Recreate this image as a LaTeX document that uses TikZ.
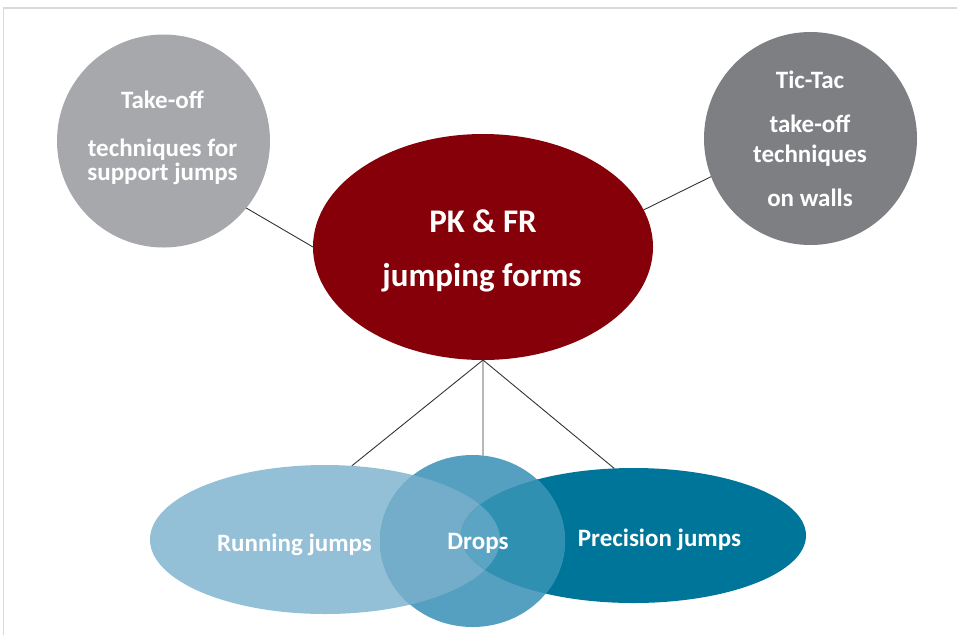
\documentclass[tikz,border=0pt]{standalone}
\usepackage{fontspec}
\setmainfont{Carlito}
\usetikzlibrary{shapes.geometric}
\definecolor{framegray}{HTML}{D9D9D9}
\definecolor{lgray}{HTML}{A7A8AB}
\definecolor{dgray}{HTML}{7E7F83}
\definecolor{pkred}{HTML}{860009}
\definecolor{runcol}{HTML}{93C0D6}
\definecolor{dropcol}{HTML}{55A0C0}
\definecolor{preccol}{HTML}{00759A}
\definecolor{rdcol}{HTML}{74ADC9}
\definecolor{dpcol}{HTML}{2F90B2}
\definecolor{rdpcol}{HTML}{5CA4C3}
\definecolor{linkcol}{HTML}{333333}
\begin{document}
\begin{tikzpicture}[x=1pt,y=-1pt,
  blob/.style={ellipse, inner sep=0pt, outer sep=0pt},
  disc/.style={circle, inner sep=0pt, outer sep=0pt, minimum size=213pt},
  lbl/.style={text=white, font=\bfseries\fontsize{25}{25}\selectfont, anchor=base, inner sep=0pt},
  biglbl/.style={lbl, font=\bfseries\fontsize{33}{33}\selectfont},
  link/.style={draw=linkcol, line width=0.9pt}]
\useasboundingbox (0,0) rectangle (957,635);
\draw[framegray, line width=1.5pt] (957,8) -- (3.5,8) -- (3.5,635);

% nodes (shapes)
\node[disc, fill=lgray] (lc) at (163.5,141) {};
\node[disc, fill=dgray] (rc) at (810.5,138.5) {};
\node[blob, fill=pkred, minimum width=340pt, minimum height=226pt] (pk) at (483,247) {};
\node[blob, minimum width=350pt, minimum height=149pt] (run) at (325,539.5) {};
\node[blob, minimum width=185pt, minimum height=172pt] (drop) at (472.5,541) {};
\node[blob, minimum width=345pt, minimum height=135pt] (prec) at (633.5,535.5) {};

% connectors
\draw[link] (lc.-39) -- (pk.180);
\draw[link] (rc.-159) -- (pk.13);
\draw[link] (pk.-90) -- (run.70.5);
\draw[link] (pk.-90) -- (drop.83);
\draw[link] (pk.-90) -- (prec.106);

% overlapping fills
\fill[runcol] (run.center) ellipse [x radius=175pt, y radius=74.5pt];
\fill[preccol] (prec.center) ellipse [x radius=172.5pt, y radius=67.5pt];
\fill[dropcol] (drop.center) ellipse [x radius=92.5pt, y radius=86pt];
\begin{scope}
  \clip (drop.center) ellipse [x radius=92.5pt, y radius=86pt];
  \fill[rdcol] (run.center) ellipse [x radius=175pt, y radius=74.5pt];
  \fill[dpcol] (prec.center) ellipse [x radius=172.5pt, y radius=67.5pt];
  \clip (run.center) ellipse [x radius=175pt, y radius=74.5pt];
  \fill[rdpcol] (prec.center) ellipse [x radius=172.5pt, y radius=67.5pt];
\end{scope}

% texts
\node[lbl] (lc1) at (162.5,108.5) {Take-off};
\node[lbl] (lc2) at (162.5,156.5) {techniques for};
\node[lbl] (lc3) at (162.5,180) {support jumps};
\node[lbl] (rc1) at (810,88.5) {Tic-Tac};
\node[lbl] (rc2) at (810,132.5) {take-off};
\node[lbl] (rc3) at (810,162.5) {techniques};
\node[lbl] (rc4) at (810,206) {on walls};
\node[biglbl] (pk1) at (483,232.5) {PK \& FR};
\node[biglbl] (pk2) at (482,286.5) {jumping forms};
\node[lbl] (run1) at (294.5,551) {Running jumps};
\node[lbl] (drop1) at (478,549) {Drops};
\node[lbl] (prec1) at (659.5,546) {Precision jumps};
\end{tikzpicture}
\end{document}
